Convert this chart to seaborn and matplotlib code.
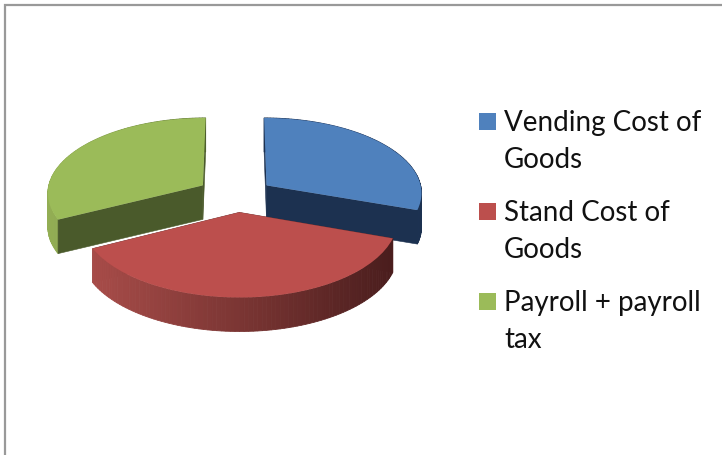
import numpy as np
import matplotlib
matplotlib.use("Agg")
import matplotlib.pyplot as plt
from matplotlib.colors import LinearSegmentedColormap
from matplotlib.patches import Rectangle
from matplotlib.transforms import Transform
import seaborn as sns

categories = ["Vending Cost of\nGoods", "Stand Cost of\nGoods", "Payroll + payroll\ntax"]
values = [30.3, 37.3, 32.4]
top_colors = ["#4F81BD", "#BC4F4D", "#9BBB59"]
cut_colors = ["#1C3150", "#6E2E2C", "#4A5A2B"]
wall_stops = [["#1C3150", "#2A4570", "#1C3150"],
              ["#A84C49", "#7A3533", "#4A1D1D"],
              ["#93AE54", "#7F9A48", "#5F7535"]]
explode = [0.235, 0.22, 0.26]
radii = [1.0, 0.99, 1.0]

sns.set_theme(style="white")
plt.rcParams["font.family"] = ["Lato", "DejaVu Sans"]

W, H = 722, 455
CX, CY, A, B, K, DEPTH = 237.0, 195.5, 156.0, 75.2, 0.0894, 34.0


class Tilt(Transform):
    """Perspective view of the pie's plane, in pixel units."""
    input_dims = 2
    output_dims = 2

    def transform_non_affine(self, vals):
        vals = np.asarray(vals, dtype=float)
        u, v = vals[:, 0], vals[:, 1]
        s = 1 + K * v
        return np.column_stack([CX + A * u / s, CY - B * v / s])


tilt = Tilt()
fig = plt.figure(figsize=(W / 100, H / 100), dpi=100, facecolor="white")
ax = fig.add_axes([0, 0, 1, 1])
wedges, _ = ax.pie(values, colors=top_colors, startangle=90, counterclock=False,
                   explode=explode, radius=1, wedgeprops={"linewidth": 0})
ax.set_aspect("auto")
ax.set_xlim(0, W)
ax.set_ylim(H, 0)
ax.axis("off")

for w, r in zip(wedges, radii):
    w.set_radius(r)
    w.set_transform(tilt + ax.transData)
    w.set_zorder(5)


def rim(w, n=90):
    t = np.radians(np.linspace(w.theta1, w.theta2, n))
    c = np.array(w.center)
    return tilt.transform(np.column_stack([c[0] + w.r * np.cos(t), c[1] + w.r * np.sin(t)]))


def extruded(p, q):
    return ([p[0], q[0], q[0], p[0]], [p[1], q[1], q[1] + DEPTH, p[1] + DEPTH])


for i in [0, 2, 1]:
    w = wedges[i]
    apex = tilt.transform(np.array([w.center]))[0]
    pts = rim(w)
    cmap = LinearSegmentedColormap.from_list("wall", wall_stops[i])
    z = 1 + (i == 1)
    x0, x1 = pts[:, 0].min(), pts[:, 0].max()
    cut_z = z - 0.5 if i == 1 else z + 0.5
    for p, q in zip(pts[:-1], pts[1:]):
        col = cmap((0.5 * (p[0] + q[0]) - x0) / (x1 - x0))
        xs, ys = extruded(p, q)
        ax.fill(xs, ys, color=col, lw=0.6, zorder=z)
    for end in (pts[0], pts[-1]):
        xs, ys = extruded(apex, end)
        ax.fill(xs, ys, color=cut_colors[i], lw=0.4, zorder=cut_z)

# Legend
swatch_top = [113, 203, 293]
for name, col, y in zip(categories, top_colors, swatch_top):
    ax.add_patch(Rectangle((479, y), 17, 17, facecolor=col, edgecolor="none"))
    ax.text(504, y - 3, name, fontsize=20, color="#111111", va="top", ha="left", linespacing=1.5)

# Frame
ax.plot([5, 5, W], [H, 4.5, 4.5], color="#999999", lw=1.6, solid_joinstyle="miter", clip_on=False)

fig.savefig("out.png", dpi=100)
